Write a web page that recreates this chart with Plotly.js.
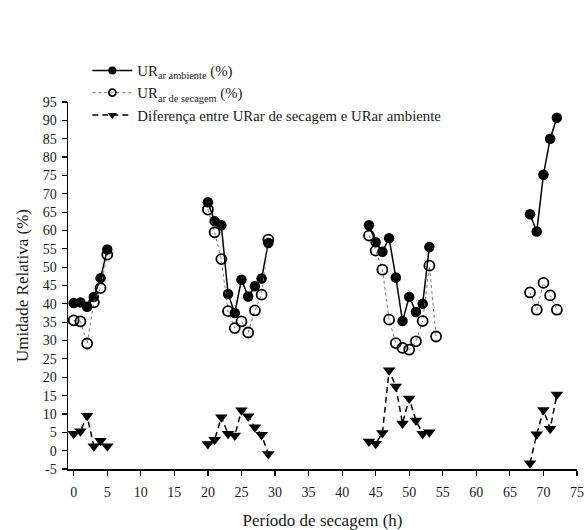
<!DOCTYPE html>
<html>
<head>
<meta charset="utf-8">
<script src="https://cdn.plot.ly/plotly-3.0.1.min.js"></script>
<style>html,body{margin:0;padding:0;background:#fff;}#chart{width:585px;height:530px;}</style>
</head>
<body>
<div id="chart"></div>
<script>
// Hours (null separates drying runs)
const hoursAmbiente = [0,1,2,3,4,5,null,20,21,22,23,24,25,26,27,28,29,null,44,45,46,47,48,49,50,51,52,53,null,68,69,70,71,72];
const urAmbiente    = [40.2,40.4,39.2,41.9,47.0,54.8,null,67.7,62.5,61.4,42.7,37.5,46.6,42.0,44.8,46.9,56.6,null,61.4,56.8,54.2,57.9,47.2,35.3,41.9,37.8,40.0,55.5,null,64.4,59.7,75.2,85.0,90.7];

const hoursSecagem  = [0,1,2,3,4,5,null,20,21,22,23,24,25,26,27,28,29,null,44,45,46,47,48,49,50,51,52,53,54,null,68,69,70,71,72];
const urSecagem     = [35.5,35.2,29.2,40.4,44.3,53.4,null,65.7,59.5,52.2,38.0,33.4,35.2,32.2,38.2,42.5,57.5,null,58.6,54.5,49.3,35.7,29.3,28.0,27.5,29.8,35.3,50.4,31.1,null,43.1,38.4,45.7,42.3,38.4];

const hoursDiferenca = [0,1,2,3,4,5,null,20,21,22,23,24,25,26,27,28,29,null,44,45,46,47,48,49,50,51,52,53,null,68,69,70,71,72];
const diferenca      = [4.6,5.3,9.5,1.2,2.7,1.2,null,1.8,3.0,9.1,4.6,4.1,11.0,9.4,6.4,4.3,-0.9,null,2.5,1.9,4.8,21.9,17.5,7.4,14.2,8.2,4.6,5.0,null,-3.4,4.5,11.1,6.0,15.3];

const seriesNames = [
  'UR<sub>ar ambiente</sub> (%)',
  'UR<sub>ar de secagem</sub> (%)',
  'Diferença entre URar de secagem e URar ambiente'
];
const xTicks = [0,5,10,15,20,25,30,35,40,45,50,55,60,65,70,75];
const yTicks = [-5,0,5,10,15,20,25,30,35,40,45,50,55,60,65,70,75,80,85,90,95];

const font = '"Liberation Serif", "Times New Roman", Times, serif';
const txt = '#1a1a1a';

const styles = [
  {line: {color: '#000', width: 1.5}, marker: {symbol: 'circle', color: '#000'}, size: 10.5, legSize: 8},
  {line: {color: '#777', width: 1, dash: 'dot'}, marker: {symbol: 'circle-open', color: '#000', line: {width: 1.8, color: '#000'}}, size: 10, legSize: 7},
  {line: {color: '#000', width: 1.5, dash: '6px,4px'}, marker: {symbol: 'triangle-down', color: '#000'}, size: 11, legSize: 8}
];
const xs = [hoursAmbiente, hoursSecagem, hoursDiferenca];
const ys = [urAmbiente, urSecagem, diferenca];

const traces = [];
xs.forEach((x, i) => {
  traces.push({
    x: x, y: ys[i], type: 'scatter', mode: 'lines+markers', connectgaps: false,
    showlegend: false, line: styles[i].line,
    marker: Object.assign({size: styles[i].size}, styles[i].marker)
  });
});
// legend entries with smaller symbols (no data of their own)
xs.forEach((x, i) => {
  traces.push({
    x: [null], y: [null], name: seriesNames[i], type: 'scatter', mode: 'lines+markers',
    showlegend: true, line: styles[i].line,
    marker: Object.assign({size: styles[i].legSize}, styles[i].marker)
  });
});

const layout = {
  width: 585, height: 530,
  margin: {l: 68, r: 8, t: 102, b: 61},
  paper_bgcolor: '#fff', plot_bgcolor: '#fff',
  font: {family: font, size: 14, color: txt},
  showlegend: true,
  legend: {
    x: 0.038, y: 1.13, xanchor: 'left', yanchor: 'top',
    bgcolor: 'rgba(0,0,0,0)', font: {family: font, size: 14.8, color: txt},
    tracegroupgap: 0, itemwidth: 40
  },
  xaxis: {
    range: [-0.85, 75], tickvals: xTicks, ticktext: xTicks.map(String),
    showgrid: false, zeroline: false, showline: true, linecolor: '#000', linewidth: 1.5,
    ticks: 'outside', ticklen: 5, tickwidth: 1.2, tickcolor: '#000', ticklabelstandoff: 5,
    tickfont: {family: font, size: 14, color: txt},
    title: {text: 'Período de secagem (h)', font: {family: font, size: 17, color: txt}, standoff: 18}
  },
  yaxis: {
    range: [-5, 95], tickvals: yTicks, ticktext: yTicks.map(String),
    showgrid: false, zeroline: false, showline: true, linecolor: '#000', linewidth: 1.5,
    ticks: 'outside', ticklen: 5, tickwidth: 1.2, tickcolor: '#000', ticklabelstandoff: 2,
    tickfont: {family: font, size: 14, color: txt},
    title: {text: 'Umidade Relativa (%)', font: {family: font, size: 17, color: txt}, standoff: 10}
  }
};

Plotly.newPlot('chart', traces, layout, {displayModeBar: false, staticPlot: true});
</script>
</body>
</html>
